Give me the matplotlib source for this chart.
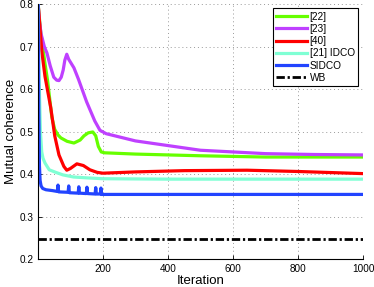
import matplotlib
matplotlib.use("Agg")
import matplotlib.pyplot as plt

plt.rcParams['font.family'] = ['Liberation Sans', 'DejaVu Sans']

# [22]
x22 = [1, 8, 15, 22, 30, 43, 52, 62, 71, 90, 111, 130, 142, 155, 169, 178, 186, 195, 205, 300, 500, 700, 1000]
y22 = [0.80, 0.74, 0.70, 0.66, 0.62, 0.534, 0.505, 0.492, 0.485, 0.477, 0.473, 0.480, 0.490, 0.497, 0.499, 0.490, 0.465, 0.452, 0.450, 0.447, 0.443, 0.440, 0.440]
# [23]
x23 = [1, 5, 10, 20, 28, 38, 49, 58, 65, 72, 78, 83, 89, 95, 103, 111, 125, 150, 175, 191, 210, 300, 500, 700, 850, 1000]
y23 = [0.80, 0.76, 0.73, 0.70, 0.685, 0.655, 0.628, 0.621, 0.620, 0.628, 0.645, 0.668, 0.682, 0.670, 0.660, 0.650, 0.623, 0.570, 0.525, 0.503, 0.495, 0.478, 0.456, 0.448, 0.446, 0.445]
# [40]
x40 = [1, 12, 22, 40, 52, 65, 80, 89, 100, 120, 140, 160, 182, 200, 300, 450, 643, 800, 1000]
y40 = [0.80, 0.69, 0.63, 0.555, 0.49, 0.445, 0.418, 0.409, 0.413, 0.424, 0.42, 0.41, 0.404, 0.402, 0.405, 0.408, 0.409, 0.406, 0.401]
# [21] IDCO
x21 = [1, 4, 8, 12, 16, 22, 35, 55, 77, 110, 150, 200, 400, 1000]
y21 = [0.80, 0.62, 0.50, 0.452, 0.437, 0.426, 0.41, 0.404, 0.398, 0.393, 0.391, 0.389, 0.388, 0.388]
# SIDCO
xs = [1, 3, 5, 7, 10, 15, 25, 45, 60, 62, 64, 93, 95, 97, 124, 126, 128, 149, 151, 153,
      176, 178, 180, 192, 194, 196, 200, 300, 1000]
ys = [0.80, 0.55, 0.42, 0.385, 0.372, 0.366, 0.363, 0.361, 0.359, 0.374, 0.358, 0.357, 0.372, 0.356, 0.355, 0.370, 0.355, 0.354, 0.369, 0.354,
      0.353, 0.368, 0.353, 0.353, 0.367, 0.352, 0.352, 0.352, 0.352]
# WB
xwb = [1, 1000]
ywb = [0.246, 0.246]

fig = plt.figure(figsize=(3.74, 2.87), dpi=100)
ax = fig.add_axes([0.102, 0.0976, 0.869, 0.888])

lw = 2.3
ax.plot(x22, y22, color='#66ff00', lw=lw, label='[22]', solid_joinstyle='round')
ax.plot(x23, y23, color='#bf40ff', lw=lw, label='[23]', solid_joinstyle='round')
ax.plot(x40, y40, color='#ff0000', lw=lw, label='[40]', solid_joinstyle='round')
ax.plot(x21, y21, color='#7fffd4', lw=lw, label='[21] IDCO', solid_joinstyle='round')
ax.plot(xs, ys, color='#2244ff', lw=lw, label='SIDCO', solid_joinstyle='round')
ax.plot(xwb, ywb, color='black', lw=2.0, ls=(0, (3, 1, 0.8, 1)), label='WB')

ax.set_xlim(1, 1000)
ax.set_ylim(0.2, 0.8)
ax.set_xticks([200, 400, 600, 800, 1000])
ax.set_yticks([0.2, 0.3, 0.4, 0.5, 0.6, 0.7, 0.8])
ax.grid(True, ls=(0, (1, 3)), color='#999999', lw=0.7)
for s in ['top', 'right']:
    ax.spines[s].set_visible(False)
for s in ['left', 'bottom']:
    ax.spines[s].set_linewidth(0.8)
ax.tick_params(direction='in', length=3, labelsize=7.2, width=0.6)
ax.set_xlabel('Iteration', fontsize=9.5, labelpad=1)
ax.set_ylabel('Mutual coherence', fontsize=9.5, labelpad=2)

leg = ax.legend(loc='upper right', fontsize=7.3, handlelength=3.0, handletextpad=0.3,
                labelspacing=0.22, borderpad=0.35, fancybox=False, framealpha=1,
                edgecolor='black', bbox_to_anchor=(0.985, 0.984), borderaxespad=0)
leg.get_frame().set_linewidth(0.8)

fig.savefig('out.png', dpi=100)
